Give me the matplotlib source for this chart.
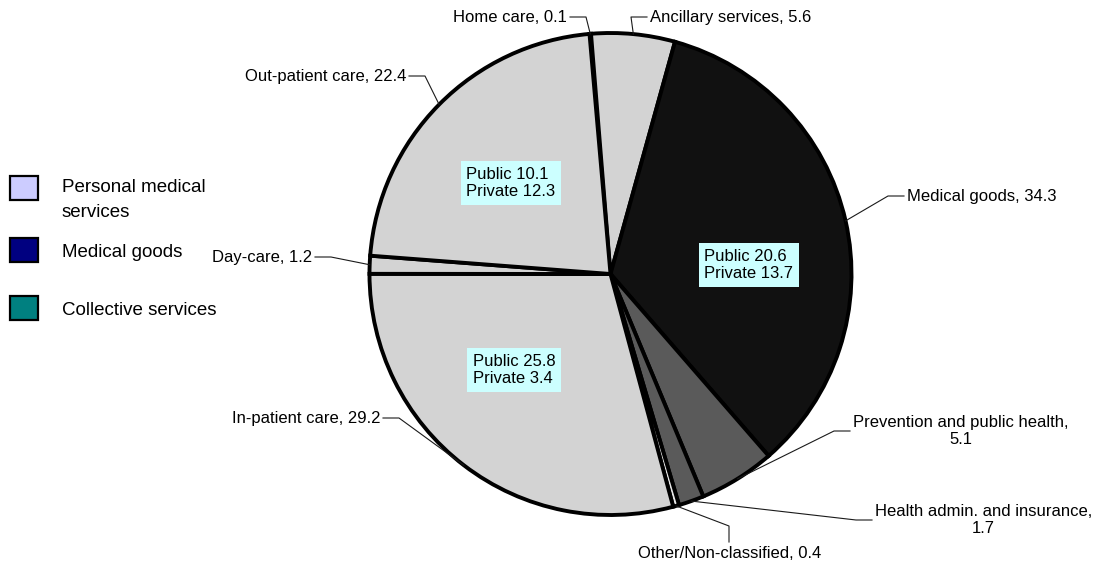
import numpy as np
import matplotlib.pyplot as plt
from matplotlib.patches import Rectangle

plt.rcParams['font.family'] = ['Liberation Sans', 'DejaVu Sans']

# Data
categories = ["Home care", "Ancillary services", "Medical goods",
              "Prevention and public health", "Health admin. and insurance",
              "Other/Non-classified", "In-patient care", "Day-care", "Out-patient care"]
shares = [0.1, 5.6, 34.3, 5.1, 1.7, 0.4, 29.2, 1.2, 22.4]
groups = ["personal", "personal", "goods", "collective", "collective",
          "other", "personal", "personal", "personal"]
wrap_label = [False, False, False, True, True, False, False, False, False]

split_categories = ["Out-patient care", "Medical goods", "In-patient care"]
public_share = [10.1, 20.6, 25.8]
private_share = [12.3, 13.7, 3.4]

legend_labels = ["Personal medical\nservices", "Medical goods", "Collective services"]
legend_colors = ["#CCCCFF", "#000080", "#008080"]

group_colors = {"personal": "#D3D3D3", "goods": "#111111",
                "collective": "#5A5A5A", "other": "#E8E8E8"}

# Layout (pixels, origin top-left)
W, H = 1101, 569
label_pos = [(567, 17, 'right'), (650, 17, 'left'), (907, 196, 'left'),
             (853, 431, 'left'), (875, 520, 'left'), (730, 553, 'center'),
             (380, 418, 'right'), (312, 257, 'right'), (406, 76, 'right')]
box_pos = [(511, 183), (749, 265), (514, 370)]
legend_y = [188, 250, 308]


def Y(py):
    return H - py


fig = plt.figure(figsize=(W / 100, H / 100), dpi=100)
ax = fig.add_axes([0, 0, 1, 1])

cx, cy, R = 610.5, Y(274), 241
wedges, _ = ax.pie(shares, colors=[group_colors[g] for g in groups],
                   startangle=95, counterclock=False, center=(cx, cy), radius=R,
                   wedgeprops=dict(edgecolor='black', linewidth=2.8))
ax.set_xlim(0, W)
ax.set_ylim(0, H)
ax.axis('off')

# Category labels with leader lines
gap, stub = 3, 16
for i, w in enumerate(wedges):
    name = categories[i]
    text = f"{name},\n{shares[i]}" if wrap_label[i] else f"{name}, {shares[i]}"
    x, y, ha = label_pos[i]
    ax.text(x, Y(y), text, ha=ha, va='center', fontsize=12,
            multialignment='center')
    mid = np.deg2rad((w.theta1 + w.theta2) / 2)
    px, py = cx + R * np.cos(mid), cy + R * np.sin(mid)
    if ha == 'left':
        sx, sy = x - gap, Y(y)
        ex, ey = sx - stub, sy
    elif ha == 'right':
        sx, sy = x + gap, Y(y)
        ex, ey = sx + stub, sy
    else:
        sx, sy = x - 1, Y(y - 11)
        ex, ey = sx, sy + stub
    ax.plot([sx, ex, px], [sy, ey, py], color='#1a1a1a', lw=0.8)

# Public / private boxes
for (bx, by), pub, pri in zip(box_pos, public_share, private_share):
    ax.text(bx, Y(by), f"Public {pub}\nPrivate {pri}", ha='center', va='center',
            fontsize=12, multialignment='left',
            bbox=dict(boxstyle='square,pad=0.35', facecolor='#CCFFFF',
                      edgecolor='none'))

# Legend
for lab, col, ly in zip(legend_labels, legend_colors, legend_y):
    ax.add_patch(Rectangle((10, Y(ly) - 12), 28, 24, facecolor=col,
                           edgecolor='black', lw=1.6))
    if '\n' in lab:
        ax.text(62, Y(ly + 12), lab, ha='left', va='center', fontsize=13.5,
                linespacing=1.55)
    else:
        ax.text(62, Y(ly + 2), lab, ha='left', va='center', fontsize=13.5)

fig.savefig('out.png', dpi=100, facecolor='white')
